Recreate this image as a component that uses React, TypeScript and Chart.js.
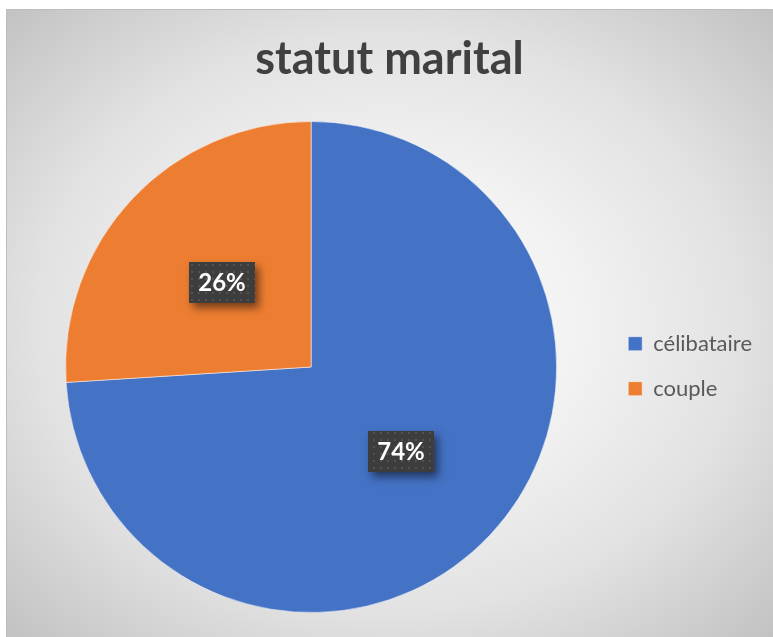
import React, { useEffect, useRef } from 'react';
import { Chart, registerables } from 'chart.js';
Chart.register(...registerables);

const chartTitle = 'statut marital';
const categories = ['célibataire', 'couple'];
const values = [74, 26];
const sliceColors = ['#4472C4', '#ED7D31'];

const FONT = "Lato, 'Open Sans', sans-serif";

export default function App() {
  const ref = useRef<HTMLCanvasElement>(null);
  useEffect(() => {
    document.body.style.margin = '0';
    document.body.style.overflow = 'hidden';
    const canvas = ref.current!;
    const tile = document.createElement('canvas');
    tile.width = 7;
    tile.height = 7;
    const t = tile.getContext('2d')!;
    t.fillStyle = '#3d3d3d';
    t.fillRect(0, 0, 7, 7);
    t.fillStyle = '#525252';
    t.fillRect(3, 3, 2, 2);

    const labelPlugin = {
      id: 'boxLabels',
      afterDatasetsDraw(chart: any) {
        const ctx = chart.ctx as CanvasRenderingContext2D;
        const meta = chart.getDatasetMeta(0);
        const data = chart.data.datasets[0].data as number[];
        const total = data.reduce((a, b) => a + b, 0);
        const pattern = ctx.createPattern(tile, 'repeat')!;
        meta.data.forEach((arc: any, i: number) => {
          const { x, y } = arc.tooltipPosition(false);
          const text = Math.round((data[i] / total) * 100) + '%';
          ctx.save();
          ctx.font = `bold 24px ${FONT}`;
          const w = Math.round(ctx.measureText(text).width + 18);
          const h = 41;
          const bx = Math.round(x - w / 2);
          const by = Math.round(y - h / 2);
          ctx.shadowColor = 'rgba(0,0,0,0.5)';
          ctx.shadowBlur = 8;
          ctx.shadowOffsetX = 4;
          ctx.shadowOffsetY = 5;
          ctx.fillStyle = '#3d3d3d';
          ctx.fillRect(bx, by, w, h);
          ctx.shadowColor = 'transparent';
          ctx.shadowBlur = 0;
          ctx.shadowOffsetX = 0;
          ctx.shadowOffsetY = 0;
          ctx.fillStyle = pattern;
          ctx.fillRect(bx, by, w, h);
          ctx.fillStyle = '#ffffff';
          ctx.textAlign = 'center';
          ctx.textBaseline = 'middle';
          ctx.fillText(text, bx + w / 2, by + h / 2 + 1);
          ctx.restore();
        });
      },
    };

    const chart = new Chart(canvas, {
      type: 'pie',
      data: {
        labels: categories,
        datasets: [
          {
            data: values,
            backgroundColor: sliceColors,
            borderColor: 'rgba(255,255,255,0.5)',
            borderWidth: 1,
          },
        ],
      },
      options: {
        responsive: false,
        animation: false,
        devicePixelRatio: 1,
        layout: { padding: { left: 11, right: 11, top: 0, bottom: 24 } },
        plugins: {
          title: {
            display: true,
            text: chartTitle,
            color: '#404040',
            font: { family: FONT, size: 45, weight: 'bold', lineHeight: 1.2 },
            padding: { top: 23, bottom: 35 },
          },
          legend: {
            position: 'right',
            title: {
              display: true,
              text: '',
              font: { family: FONT, size: 12, lineHeight: 1.2 },
              padding: { top: 96, bottom: 0 },
            },
            labels: {
              boxWidth: 14,
              boxHeight: 14,
              padding: 23,
              color: '#595959',
              font: { family: FONT, size: 22 },
            },
          },
          tooltip: { enabled: false },
        },
      },
      plugins: [labelPlugin],
    });
    return () => chart.destroy();
  }, []);

  return (
    <div style={{ position: 'relative', width: 773, height: 637, background: '#ffffff', overflow: 'hidden' }}>
      <div
        style={{
          position: 'absolute',
          left: 6,
          top: 9,
          width: 767,
          height: 628,
          background:
            'radial-gradient(ellipse at 50% 50%, #ffffff 0%, #f2f2f2 35%, #e2e2e2 65%, #c2c2c2 100%)',
          boxShadow: 'inset 1px 1px 0 #bdbdbd',
        }}
      >
        <canvas ref={ref} width={767} height={628} style={{ display: 'block', width: 767, height: 628 }} />
      </div>
    </div>
  );
}
